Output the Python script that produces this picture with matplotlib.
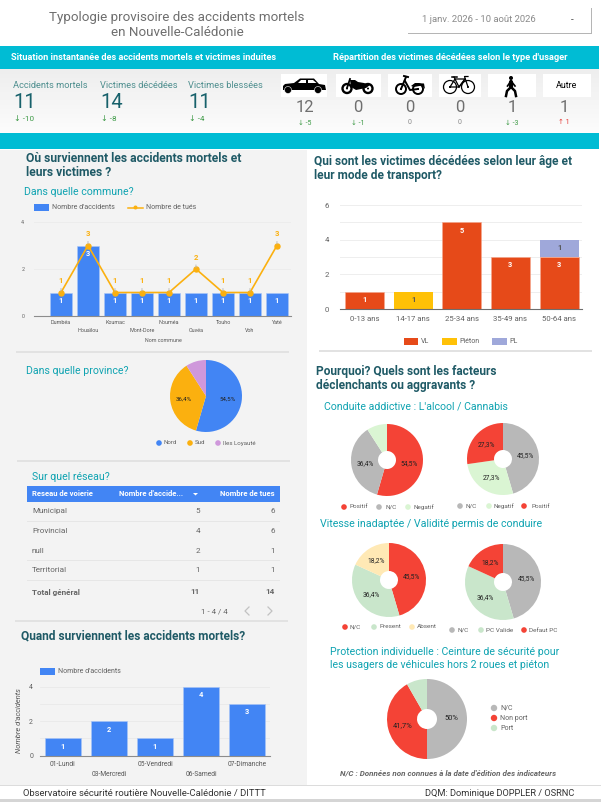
import numpy as np
import matplotlib
matplotlib.use("Agg")
import matplotlib.pyplot as plt
from matplotlib.patches import Rectangle, Circle, Polygon

plt.rcParams['font.family'] = ['Roboto', 'DejaVu Sans']

W, H = 601, 802

# --- data ---
kpi_labels = ["Accidents mortels", "Victimes décédées", "Victimes blessées"]
kpi_values = [11, 14, 11]
kpi_deltas = [-10, -8, -4]

usager_values = [12, 0, 0, 0, 1, 1]
usager_deltas = [-5, -1, 0, 0, -3, 1]

communes = ["Dumbéa", "Houaïlou", "Koumac", "Mont-Dore", "Nouméa", "Ouvéa", "Touho", "Voh", "Yaté"]
commune_accidents = [1, 3, 1, 1, 1, 1, 1, 1, 1]
commune_tues = [1, 3, 1, 1, 1, 2, 1, 1, 3]

provinces = ["Nord", "Sud", "Iles Loyauté"]
province_pct = [54.5, 36.4, 9.1]

reseau_cols = ["Reseau de voierie", "Nombre d'accide...", "Nombre de tues"]
reseau_noms = ["Municipal", "Provincial", "null", "Territorial", "Total général"]
reseau_accidents = [5, 4, 2, 1, 11]
reseau_tues = [6, 6, 1, 1, 14]

jours = ["01-Lundi", "03-Mercredi", "05-Vendredi", "06-Samedi", "07-Dimanche"]
jour_accidents = [1, 2, 1, 4, 3]

ages = ["0-13 ans", "14-17 ans", "25-34 ans", "35-49 ans", "50-64 ans"]
age_vl = [1, 0, 5, 3, 3]
age_pieton = [0, 1, 0, 0, 0]
age_pl = [0, 0, 0, 0, 1]

alcool_pct = [54.5, 36.4, 9.1]
alcool_noms = ["Positif", "N/C", "Negatif"]
cannabis_pct = [45.5, 27.3, 27.3]
cannabis_noms = ["N/C", "Negatif", "Positif"]
vitesse_pct = [45.5, 36.4, 18.2]
vitesse_noms = ["N/C", "Present", "Absent"]
permis_pct = [45.5, 36.4, 18.2]
permis_noms = ["N/C", "PC Valide", "Defaut PC"]
ceinture_pct = [50, 41.7, 8.3]
ceinture_noms = ["N/C", "Non port", "Port"]

BLUE = '#4285f4'
ORANGE = '#fbb00f'
PURPLE = '#cf98db'
RED = '#f44336'
GREY = '#b8b8b8'
PALE = '#daf5d3'
MINT = '#c9e6cb'
CREAM = '#ffe9b5'
CYAN = '#00bcd4'
DARK = '#1f5a66'
TEAL = '#0fa3b1'
TXT = '#616161'

fig = plt.figure(figsize=(W / 100, H / 100), dpi=100, facecolor='white')
bg = fig.add_axes([0, 0, 1, 1], zorder=0)
bg.set_xlim(0, W)
bg.set_ylim(H, 0)
bg.axis('off')


def px_axes(x0, y0, x1, y1, z=2):
    ax = fig.add_axes([x0 / W, 1 - y1 / H, (x1 - x0) / W, (y1 - y0) / H], zorder=z)
    ax.patch.set_alpha(0)
    return ax


def txt(x, y, s, size=7, color=TXT, ha='left', **kw):
    kw.setdefault('zorder', 5)
    bg.text(x, y, s, fontsize=size, color=color, ha=ha, va='center', **kw)


def box(x0, y0, x1, y1, color, z=1):
    bg.add_patch(Rectangle((x0, y0), x1 - x0, y1 - y0, fc=color, ec='none', zorder=z))


def dots(y, xs, tx, names, colors, size=4.6):
    for x, t, n, c in zip(xs, tx, names, colors):
        bg.add_patch(Circle((x, y), 2.8, fc=c, ec='none', zorder=3))
        txt(t, y, n, size=size)


def delta(x, y, v, size=6, ha='left'):
    if v == 0:
        txt(x, y, "0", size=size, color='#8a8a8a', ha=ha)
    elif v < 0:
        txt(x, y, f"↓ {v}", size=size, color='#3d9a46', ha=ha)
    else:
        txt(x, y, f"↑ {v}", size=size, color='#e53935', ha=ha)


def donut(cx, cy, r, hole, pct, colors, size=4.8, dist=0.62):
    ax = px_axes(cx - r, cy - r, cx + r, cy + r)

    def fmt(p):
        if p < 10:
            return ''
        return f"{p:.1f}".replace('.', ',').replace(',0', '') + '%'

    _, _, autos = ax.pie(pct, colors=colors, startangle=90, counterclock=False, radius=1,
                         autopct=fmt, pctdistance=dist,
                         wedgeprops=dict(width=1 - hole / r, linewidth=0))
    for a in autos:
        a.set_fontsize(size)
        a.set_color('#222222')
    ax.set_xlim(-1, 1)
    ax.set_ylim(-1, 1)
    return ax


# --- backgrounds ---
box(0, 150, 307, 785, '#f3f3f3')
box(0, 46, 599, 69, CYAN)
box(0, 133, 599, 149, CYAN)
grad = np.linspace(0.93, 0.985, 64).reshape(-1, 1)
bg.imshow(grad, extent=(0, 599, 133, 69), cmap='gray', vmin=0, vmax=1, aspect='auto', zorder=1)
bg.set_xlim(0, W)
bg.set_ylim(H, 0)
box(0, 785, 601, 786, '#dcdcdc')
box(0, 799, 601, 802, '#d5d5d5')

for x0, x1, y in [(16, 289, 352), (17, 290, 461), (15, 288, 621), (319, 592, 351)]:
    box(x0, y - 1, x1, y + 1, '#e2e2e2', z=2)

# --- header ---
txt(177, 17, "Typologie provisoire des accidents mortels", size=9.6, color='#6e6e6e', ha='center')
txt(177, 32.5, "en Nouvelle-Calédonie", size=9.6, color='#6e6e6e', ha='center')
box(408, 8, 592, 34, '#b5b5b5', z=1)
box(407, 7, 591, 32.5, 'white', z=2)
txt(422, 20, "1 janv. 2026 - 10 août 2026", size=6.8, color='#8a8a8a')
txt(572, 20, "-", size=7, color='#555555', ha='center')
txt(11, 57, "Situation instantanée des accidents mortels et victimes induites",
    size=6.65, color='white', fontweight='bold')
txt(333, 57, "Répartition des victimes décédées selon le type d'usager",
    size=6.65, color='white', fontweight='bold')

# --- KPI ---
for x, lab, val, d in zip([13, 100, 188], kpi_labels, kpi_values, kpi_deltas):
    txt(x, 85, lab, size=6.7, color='#4f8f8f')
    txt(x, 102, str(val), size=14.5, color='#17616b')
    delta(x + 1, 119, d, size=5.8)

usager_x = [305, 358, 410, 460, 512, 564]
icon_boxes = [(281, 327), (336, 381), (388, 432), (439, 481), (488, 536), (543, 591)]
for (x0, x1) in icon_boxes:
    box(x0, 74, x1, 97, 'white', z=2)
for x, v, d in zip(usager_x, usager_values, usager_deltas):
    txt(x, 107.5, str(v), size=12, color='#6f6f6f', ha='center')
    delta(x, 123, d, size=5, ha='center')

# pictos
K = 'black'
bg.add_patch(Polygon([(283, 86), (285, 84), (294, 83), (300, 78.5), (314, 78.5), (319, 84), (325, 85), (326, 90),
                      (283, 90)], fc=K, ec='none', zorder=3))
bg.add_patch(Polygon([(301, 80), (306, 80), (306, 83), (297.5, 83)], fc='white', ec='none', zorder=3))
bg.add_patch(Polygon([(308, 80), (313, 80), (316.5, 83), (308, 83)], fc='white', ec='none', zorder=3))
for cx in (288, 318):
    bg.add_patch(Circle((cx, 90), 3.5, fc=K, ec='white', lw=0.4, zorder=4))


def wheel(cx, cy, r, lw=1.4):
    bg.add_patch(Circle((cx, cy), r, fc='none', ec=K, lw=lw, zorder=4))
    bg.add_patch(Circle((cx, cy), 1, fc=K, ec='none', zorder=4))


# moto
wheel(347, 88.5, 4.5, 1.7)
wheel(368, 88.5, 4.5, 1.7)
bg.add_patch(Polygon([(350, 80), (355, 80), (358, 82), (364, 83), (370, 85), (366, 88), (356, 90), (351, 87)],
                     fc=K, ec='none', zorder=3))
bg.plot([347, 350], [88, 79], color=K, lw=1.3, zorder=4)
# mobylette
wheel(401, 89, 5)
wheel(418, 89, 5)
bg.plot([401, 406], [89, 77], color=K, lw=1.4, zorder=4)
bg.plot([404, 408], [76, 77], color=K, lw=1.4, zorder=4)
bg.plot([405, 410, 418], [81, 90, 89], color=K, lw=1.4, zorder=4)
bg.add_patch(Polygon([(411, 86), (415, 83), (424, 83.5), (425, 89), (422, 85.5), (414, 87)], fc=K, ec='none', zorder=3))
# velo
wheel(450, 87, 6.5, 0.9)
wheel(468, 87, 6.5, 0.9)
bg.plot([450, 455, 465, 459, 450], [87, 79, 79, 87, 87], color=K, lw=0.9, zorder=4)
bg.plot([454, 459], [77, 87], color=K, lw=0.9, zorder=4)
bg.plot([452, 457], [77, 77], color=K, lw=1.1, zorder=4)
bg.plot([468, 464.5, 468], [87, 76.5, 76.5], color=K, lw=0.9, zorder=4)
bg.plot([459, 465], [87, 79], color=K, lw=0.9, zorder=4)
# pieton
bg.add_patch(Circle((511, 78), 2, fc=K, ec='none', zorder=4))
bg.plot([511, 511], [81.5, 87], color=K, lw=3, zorder=4, solid_capstyle='round')
bg.plot([511, 507, 506], [87, 91, 96], color=K, lw=1.8, zorder=4)
bg.plot([511, 515, 516], [87, 91, 96], color=K, lw=1.8, zorder=4)
bg.plot([511, 507.5], [81, 86], color=K, lw=1.2, zorder=4)
bg.plot([511, 515], [81, 86], color=K, lw=1.2, zorder=4)
txt(567, 85, "Autre", size=6.4, color='black', ha='center')

# --- ou: commune ---
txt(26, 158, "Où surviennent les accidents mortels et", size=8.7, color=DARK, fontweight='bold')
txt(26, 172, "leurs victimes ?", size=8.7, color=DARK, fontweight='bold')
txt(24, 192, "Dans quelle commune?", size=7.6, color=TEAL)

box(34, 204, 49, 211, BLUE, z=3)
txt(52, 207.5, "Nombre d'accidents", size=5)
bg.plot([128, 143], [207.5, 207.5], color=ORANGE, lw=1.1, zorder=3)
bg.add_patch(Circle((135.5, 207.5), 2, fc=ORANGE, ec='none', zorder=4))
txt(146, 207.5, "Nombre de tués", size=5)

ax = px_axes(34, 222, 291, 316)
xs = np.arange(len(communes))
ax.bar(xs, commune_accidents, width=0.8, color=BLUE, zorder=2, edgecolor='#a9c6f8', linewidth=0.4)
ax.plot(xs, commune_tues, color=ORANGE, lw=1.2, marker='o', ms=3.6, zorder=3)
ax.set_xlim(-1, 8.52)
ax.set_ylim(0, 4)
ax.set_yticks([0, 2, 4])
ax.set_xticks(xs)
ax.set_xticklabels([])
ax.tick_params(length=0, labelsize=3.8, labelcolor=TXT, pad=7)
ax.yaxis.grid(True, color='#ebebeb', lw=0.6)
ax.set_axisbelow(True)
for s in ['top', 'right', 'left']:
    ax.spines[s].set_visible(False)
ax.spines['bottom'].set_color('#8c8c8c')
for i, (a, t) in enumerate(zip(commune_accidents, commune_tues)):
    ax.annotate(str(a), (i, a), xytext=(0, -6), textcoords='offset points', ha='center', va='center',
                fontsize=5.4, color='white', fontweight='bold', zorder=4)
    ax.annotate(str(t), (i, t), xytext=(0, 8.5), textcoords='offset points', ha='center', va='center',
                fontsize=5.6, color=ORANGE, fontweight='bold', zorder=4,
                arrowprops=dict(arrowstyle='-', color='#b5b5b5', lw=0.6, shrinkA=1, shrinkB=1))
for i, c in enumerate(communes):
    y = 323 if i % 2 == 0 else 330
    txt(61 + 27 * i, y, c, size=3.9, color='#555555', ha='center')
txt(163, 341, "Nom commune", size=3.8, color='#555555', ha='center')

# --- province ---
txt(26, 371, "Dans quelle province?", size=7.6, color=TEAL)
ax = donut(206, 396, 36, 0.001, province_pct, [BLUE, ORANGE, PURPLE], size=4.4, dist=0.62)
dots(443, [159, 190, 218], [164, 195, 223], provinces, [BLUE, ORANGE, PURPLE], size=4.4)

# --- reseau ---
txt(32, 477, "Sur quel réseau?", size=7.6, color=TEAL)
box(27, 486, 280, 502, BLUE, z=3)
txt(32, 494, reseau_cols[0], size=5.5, color='white', fontweight='bold')
txt(119, 494, reseau_cols[1], size=5.5, color='white', fontweight='bold')
bg.add_patch(Polygon([(193, 493), (198, 493), (195.5, 495.5)], fc='white', ec='none', zorder=4))
txt(275, 494, reseau_cols[2], size=5.5, color='white', fontweight='bold', ha='right')
row_y = [511, 531, 551, 570, 592]
for y, n, a, t in zip(row_y, reseau_noms, reseau_accidents, reseau_tues):
    weight = 'bold' if n == "Total général" else 'normal'
    txt(32, y, n, size=5.9, color='#666666', fontweight=weight)
    txt(200, y, str(a), size=5.9, color='#666666', fontweight=weight, ha='right')
    txt(275, y, str(t), size=5.9, color='#666666', fontweight=weight, ha='right')
for y in [521.5, 541, 560.5, 580.5]:
    box(27, y - 0.4, 280, y + 0.4, '#e6e6e6', z=3)
txt(214, 611, "1 - 4 / 4", size=5.7, color='#666666', ha='center')
bg.plot([249, 245, 249], [607, 611, 615], color='#c2c2c2', lw=0.9, zorder=4)
bg.plot([268, 272, 268], [607, 611, 615], color='#c2c2c2', lw=0.9, zorder=4)

# --- quand ---
txt(21, 636, "Quand surviennent les accidents mortels?", size=8.6, color=DARK, fontweight='bold')
box(40, 668, 55, 675, BLUE, z=3)
txt(58, 671.5, "Nombre d'accidents", size=5)
ax = px_axes(40, 686.7, 270, 755.7)
xs = np.arange(len(jours))
ax.bar(xs, jour_accidents, width=0.8, color=BLUE, zorder=2, edgecolor='#a9c6f8', linewidth=0.4)
ax.set_xlim(-0.5, 4.5)
ax.set_ylim(0, 4)
ax.set_yticks([0, 2, 4])
ax.set_yticks([1, 3], minor=True)
ax.set_xticks([])
ax.tick_params(which='both', length=0, labelsize=5, labelcolor=TXT, pad=5)
ax.yaxis.grid(True, which='both', color='#e9e9e9', lw=0.6)
ax.set_axisbelow(True)
for s in ['top', 'right', 'left']:
    ax.spines[s].set_visible(False)
ax.spines['bottom'].set_color('#8c8c8c')
for i, a in enumerate(jour_accidents):
    ax.annotate(str(a), (i, a), xytext=(0, -6), textcoords='offset points', ha='center', va='center',
                fontsize=5.4, color='white', fontweight='bold')
for i, j in enumerate(jours):
    y = 764 if i % 2 == 0 else 774.5
    txt(63 + 46 * i - (1 if i == 0 else 0), y, j, size=4.8, color='#555555', ha='center')
txt(19, 721, "Nombre d'accidents", size=5.4, color='#555555', ha='center', rotation=90, style='italic')

# --- age ---
txt(314, 161, "Qui sont les victimes décédées selon leur âge et", size=8.55, color=DARK, fontweight='bold')
txt(314, 176, "leur mode de transport?", size=8.55, color=DARK, fontweight='bold')
ax = px_axes(340, 205, 582, 309)
xs = np.arange(len(ages))
vl = np.array(age_vl)
pieton = np.array(age_pieton)
pl = np.array(age_pl)
ax.bar(xs, vl, width=0.8, color='#e64a19', zorder=2, edgecolor='#f7a98f', linewidth=0.4)
ax.bar(xs, pieton, width=0.8, bottom=vl, color='#ffc107', zorder=2)
ax.bar(xs, pl, width=0.8, bottom=vl + pieton, color='#9fa8da', zorder=2)
ax.set_xlim(-0.5, 4.47)
ax.set_ylim(0, 6)
ax.set_yticks([0, 2, 4, 6])
ax.set_yticks([1, 3, 5], minor=True)
ax.set_xticks(xs)
ax.set_xticklabels(ages)
ax.tick_params(which='both', length=0, labelsize=5.6, labelcolor=TXT)
ax.tick_params(axis='x', pad=5)
ax.tick_params(axis='y', pad=8)
ax.yaxis.grid(True, which='both', color='#eeeeee', lw=0.7)
ax.set_axisbelow(True)
for s in ['top', 'right', 'left']:
    ax.spines[s].set_visible(False)
ax.spines['bottom'].set_color('#6e6e6e')
for i in range(len(ages)):
    if vl[i]:
        ax.annotate(str(vl[i]), (i, vl[i]), xytext=(0, -6), textcoords='offset points', ha='center', va='center',
                    fontsize=5.4, color='white', fontweight='bold')
    if pieton[i]:
        ax.annotate(str(pieton[i]), (i, vl[i] + pieton[i]), xytext=(0, -6), textcoords='offset points',
                    ha='center', va='center', fontsize=5.4, color='#555555', fontweight='bold')
    if pl[i]:
        ax.annotate(str(pl[i]), (i, vl[i] + pl[i]), xytext=(0, -6), textcoords='offset points',
                    ha='center', va='center', fontsize=5.4, color='#555555', fontweight='bold')
for x0, x1, tx, n, c in [(404, 418, 421, "VL", '#e64a19'), (442, 457, 459, "Piéton", '#ffc107'),
                         (492, 507, 509, "PL", '#9fa8da')]:
    box(x0, 338, x1, 345, c, z=3)
    txt(tx, 341.5, n, size=5)

# --- pourquoi ---
txt(316, 371, "Pourquoi? Quels sont les facteurs", size=8.6, color=DARK, fontweight='bold')
txt(316, 385, "déclenchants ou aggravants ?", size=8.6, color=DARK, fontweight='bold')
txt(324, 407, "Conduite addictive : L'alcool / Cannabis", size=7.55, color=TEAL)

donut(387, 460, 36, 9, alcool_pct, [RED, GREY, PALE])
dots(507, [344, 379, 408], [349, 385, 413], alcool_noms, [RED, GREY, PALE])
donut(503, 459, 36, 9, cannabis_pct, [GREY, PALE, RED])
dots(506, [460, 489, 524], [466, 494, 531], cannabis_noms, [GREY, PALE, RED])

txt(320, 524, "Vitesse inadaptée / Validité permis de conduire", size=7.65, color=TEAL)
donut(389, 580, 37, 9, vitesse_pct, [RED, MINT, CREAM])
dots(627, [345, 374, 412], [350, 379, 417], vitesse_noms, [RED, MINT, CREAM])
donut(503, 582, 38, 9, permis_pct, [GREY, MINT, RED])
dots(630, [452, 481, 524], [457, 486, 529], permis_noms, [GREY, MINT, RED])

txt(330, 652, "Protection individuelle : Ceinture de sécurité pour", size=7.6, color=TEAL)
txt(330, 665.5, "les usagers de véhicules hors 2 roues et piéton", size=7.6, color=TEAL)
donut(427, 719, 40, 10, ceinture_pct, [GREY, RED, MINT], size=5.4)
for y, n, c in zip([708, 718, 728], ceinture_noms, [GREY, RED, MINT]):
    bg.add_patch(Circle((494, y), 3.2, fc=c, ec='none', zorder=3))
    txt(500, y, n, size=5)

txt(448, 773, "N/C : Données non connues à la date d'édition des indicateurs", size=5.75, color='#666666',
    ha='center', fontweight='bold', style='italic')

# --- footer ---
txt(23, 793, "Observatoire sécurité routière Nouvelle-Calédonie / DITTT", size=6.8, color='#333333')
txt(425, 793, "DQM: Dominique DOPPLER / OSRNC", size=6.7, color='#333333')

fig.savefig("out.png", dpi=100)
